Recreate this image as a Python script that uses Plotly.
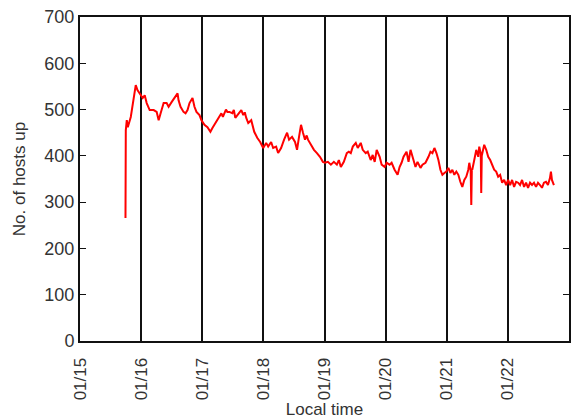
import pandas as pd
import plotly.graph_objects as go

# hours since 01/15 00:00 local time
hours = [17.86, 17.98, 18.37, 18.76, 19.94, 20.72, 21.89, 22.56, 23.06, 23.84,
         24.63, 25.41, 26.19, 27.36, 28.93, 30.10, 30.88, 31.66, 32.84, 34.01,
         34.79, 35.96, 37.14, 38.31, 38.70, 39.48, 40.65, 41.44, 42.22, 43.00,
         44.17, 44.95, 45.74, 46.91, 47.69, 48.86, 50.04, 51.21, 51.99, 53.16,
         54.34, 55.51, 56.10, 56.68, 57.30, 57.85, 58.64, 59.81, 60.40, 60.98,
         61.76, 62.50, 63.33, 64.11, 64.70, 65.28, 66.06, 67.24, 68.41, 69.58,
         70.75, 71.93, 73.10, 73.88, 75.05, 75.83, 77.01, 77.79, 78.96, 80.13,
         81.31, 82.09, 83.26, 84.43, 85.22, 86.00, 86.78, 87.56, 88.35, 89.00,
         89.52, 90.69, 91.86, 93.03, 94.21, 95.38, 96.16, 97.33, 98.51, 99.68,
         100.85, 101.63, 102.42, 103.59, 104.76, 105.54, 106.32, 107.11, 108.28, 109.06,
         110.23, 111.02, 112.19, 112.97, 114.14, 114.92, 115.71, 116.49, 117.66, 118.44,
         119.62, 120.40, 121.57, 122.35, 123.52, 124.70, 125.48, 126.26, 127.04, 128.22,
         129.00, 129.78, 130.56, 131.73, 132.52, 133.69, 134.47, 135.64, 136.82, 137.60,
         138.38, 139.16, 139.95, 140.73, 141.51, 142.29, 143.07, 143.86, 144.64, 145.42,
         146.20, 146.98, 147.76, 148.55, 149.33, 150.11, 150.89, 151.67, 152.46, 152.85,
         153.40, 153.63, 153.85, 154.02, 154.80, 155.59, 156.37, 156.76, 157.35, 157.54,
         157.75, 157.93, 158.71, 159.50, 160.28, 161.06, 161.84, 162.62, 163.41, 164.19,
         164.97, 165.75, 166.53, 167.32, 168.10, 168.88, 169.66, 170.44, 171.23, 172.01,
         172.79, 173.57, 174.35, 175.14, 175.92, 176.70, 177.48, 178.26, 179.05, 179.83,
         180.61, 181.39, 182.17, 182.96, 183.74, 184.52, 184.91, 185.30, 186.08]

hosts = [266, 455, 477, 462, 484, 514, 553, 542, 538, 531,
         525, 531, 514, 499, 499, 495, 477, 492, 514, 514,
         506, 516, 525, 535, 520, 506, 495, 492, 499, 514,
         525, 506, 495, 488, 477, 467, 462, 452, 460, 471,
         482, 492, 484, 492, 500, 495, 495, 492, 499, 482,
         488, 494, 499, 488, 494, 482, 471, 477, 452, 439,
         430, 417, 428, 420, 430, 417, 420, 406, 417, 435,
         450, 435, 441, 430, 413, 441, 467, 450, 435, 444,
         435, 424, 413, 406, 398, 387, 385, 387, 381, 387,
         381, 391, 376, 387, 406, 409, 406, 420, 428, 417,
         428, 413, 406, 409, 391, 402, 387, 413, 398, 381,
         376, 385, 381, 385, 370, 359, 376, 385, 398, 409,
         387, 413, 396, 376, 387, 374, 381, 385, 398, 409,
         406, 417, 406, 391, 370, 359, 363, 366, 374, 363,
         370, 359, 366, 359, 344, 333, 348, 355, 370, 385,
         368, 294, 372, 370, 391, 413, 398, 420, 405, 320,
         400, 406, 424, 413, 398, 391, 381, 370, 366, 355,
         359, 342, 348, 337, 348, 337, 348, 333, 344, 342,
         337, 348, 333, 342, 331, 342, 337, 342, 333, 342,
         337, 331, 342, 344, 337, 352, 366, 348, 337]

day_ticks = ["01/15", "01/16", "01/17", "01/18", "01/19", "01/20", "01/21", "01/22", "01/23"]
y_ticks = [0, 100, 200, 300, 400, 500, 600, 700]

base = pd.Timestamp("2007-01-15 00:00")
times = [base + pd.Timedelta(hours=h) for h in hours]
tick_vals = [base + pd.Timedelta(days=i) for i in range(len(day_ticks))]

fig = go.Figure()
fig.add_trace(go.Scatter(x=times, y=hosts, mode="lines",
                         line=dict(color="#ff0000", width=2), showlegend=False))

font = dict(family="Liberation Sans, Arial, sans-serif", size=17, color="#333333")

fig.update_layout(
    width=578, height=419,
    margin=dict(l=80, r=7, t=17, b=77),
    paper_bgcolor="white", plot_bgcolor="white",
    font=font,
    xaxis=dict(
        type="date",
        range=[tick_vals[0], tick_vals[-1]],
        tickvals=tick_vals, ticktext=day_ticks, tickangle=-90,
        showgrid=True, gridcolor="#111111", gridwidth=2,
        showline=True, linecolor="#111111", linewidth=2, mirror=True,
        ticks="", zeroline=False, ticklabelstandoff=8,
        title=dict(text="Local time", standoff=0, font=font),
    ),
    yaxis=dict(
        range=[0, 700], tickvals=y_ticks,
        showgrid=False, zeroline=False,
        showline=True, linecolor="#111111", linewidth=2, mirror="ticks",
        ticks="inside", ticklen=6, tickcolor="#111111", tickwidth=1,
        tickfont=dict(family="Liberation Sans, Arial, sans-serif", size=18, color="#333333"),
        title=dict(text="No. of hosts up", standoff=14, font=font),
    ),
)

fig.write_html("out.html")
